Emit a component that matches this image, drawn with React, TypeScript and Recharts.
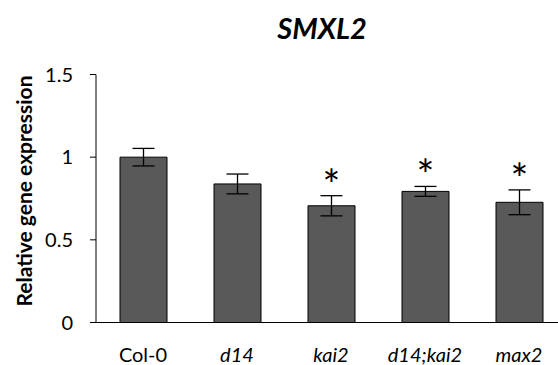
import React from 'react';
import { BarChart, Bar, XAxis, YAxis, ErrorBar, LabelList, Customized } from 'recharts';

const genotypes = ['Col-0', 'd14', 'kai2', 'd14;kai2', 'max2'];
const expression = [1.0, 0.838, 0.706, 0.793, 0.727];
const errors = [0.053, 0.06, 0.061, 0.03, 0.075];
const significant = ['', '', '*', '*', '*'];
const yTicks = [0, 0.5, 1, 1.5];

const data = genotypes.map((g, i) => ({
  name: g,
  value: expression[i],
  err: errors[i],
  sig: significant[i],
}));

const FONT = 'Lato, "Open Sans", sans-serif';

const GenotypeTick = (props: any) => {
  const { x, y, payload } = props;
  const italic = payload.value !== 'Col-0';
  return (
    <text
      x={x}
      y={y + 14}
      textAnchor="middle"
      fontFamily={FONT}
      fontSize={20}
      fontStyle={italic ? 'italic' : 'normal'}
      fill="#000"
    >
      {payload.value}
    </text>
  );
};

const StarLabel = (props: any) => {
  const { x, y, width, height, index } = props;
  const i = index ?? 0;
  if (!significant[i]) return null;
  const pxPerUnit = height / expression[i];
  const errTop = y - errors[i] * pxPerUnit;
  return (
    <text
      x={x + width / 2}
      y={errTop + 4}
      textAnchor="middle"
      fontFamily={FONT}
      fontSize={42}
      fill="#000"
    >
      {significant[i]}
    </text>
  );
};

const Decorations = () => (
  <g>
    <text
      x={322}
      y={38.5}
      textAnchor="middle"
      fontFamily={FONT}
      fontSize={29}
      fontWeight="bold"
      fontStyle="italic"
      fill="#000"
    >
      SMXL2
    </text>
    <text
      x={32}
      y={191}
      transform="rotate(-90 32 191)"
      textAnchor="middle"
      fontFamily={FONT}
      fontSize={21}
      fontWeight="bold"
      fill="#000"
    >
      Relative gene expression
    </text>
  </g>
);

export default function App() {
  return (
    <div style={{ position: 'absolute', left: 0, top: 0, width: 558, height: 365, overflow: 'hidden', background: '#fff' }}>
      <BarChart
        width={570}
        height={365}
        data={data}
        margin={{ top: 74.5, right: 4, bottom: 12.5, left: 0 }}
      >
        <XAxis
          dataKey="name"
          axisLine={{ stroke: '#000', strokeWidth: 1 }}
          tickLine={false}
          tickSize={0}
          tickMargin={25.5}
          height={30}
          interval={0}
          tick={<GenotypeTick />}
        />
        <YAxis
          domain={[0, 1.5]}
          ticks={yTicks}
          width={96}
          axisLine={{ stroke: '#000', strokeWidth: 1 }}
          tickLine={{ stroke: '#000', strokeWidth: 1 }}
          tickSize={6}
          tickMargin={17}
          tick={{ fontFamily: FONT, fontSize: 20, fill: '#000' }}
          tickFormatter={(v: number) => String(v)}
        />
        <Bar
          dataKey="value"
          barSize={47}
          fill="#595959"
          stroke="#000"
          strokeWidth={1}
          isAnimationActive={false}
        >
          <ErrorBar dataKey="err" width={11} stroke="#000" strokeWidth={1.3} />
          <LabelList dataKey="sig" content={<StarLabel />} />
        </Bar>
        <Customized component={Decorations} />
      </BarChart>
    </div>
  );
}
